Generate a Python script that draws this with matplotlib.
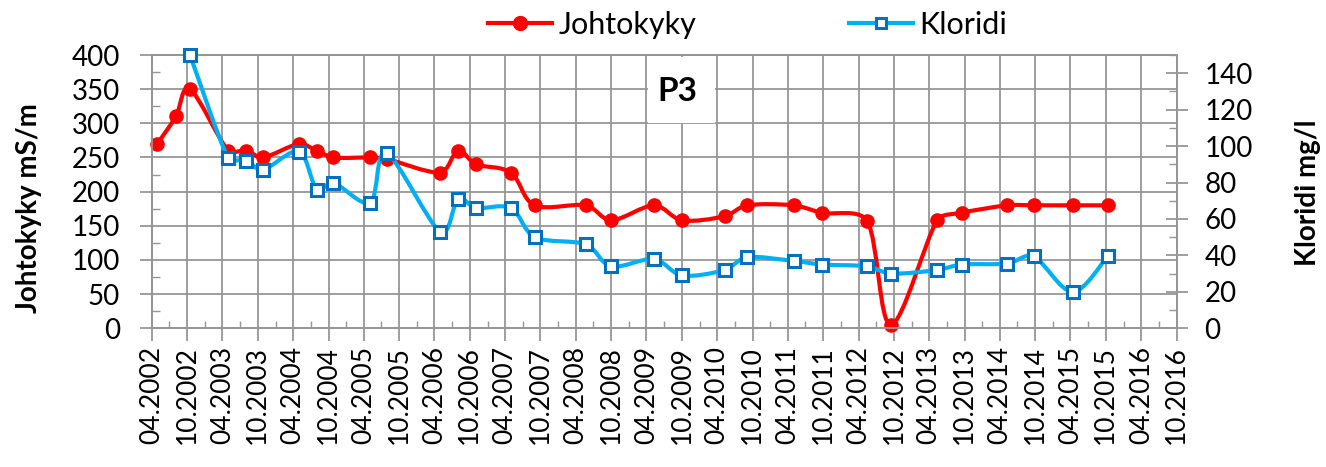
import numpy as np
import matplotlib
matplotlib.use("Agg")
import matplotlib.pyplot as plt
import matplotlib.dates as mdates
from matplotlib.path import Path
from matplotlib.patches import PathPatch, Rectangle
from matplotlib.lines import Line2D
from matplotlib.ticker import MultipleLocator

# sampling dates
dates = ["2002-04-30", "2002-08-04", "2002-10-16", "2003-05-01", "2003-08-01",
         "2003-10-28", "2004-05-01", "2004-08-01", "2004-10-25", "2005-05-04",
         "2005-07-28", "2006-05-01", "2006-08-01", "2006-11-01", "2007-05-01",
         "2007-09-01", "2008-05-25", "2008-10-01", "2009-05-10", "2009-10-01",
         "2010-05-10", "2010-09-01", "2011-05-01", "2011-09-25", "2012-05-15",
         "2012-09-15", "2013-05-12", "2013-09-15", "2014-05-10", "2014-09-22",
         "2015-04-12", "2015-10-10"]
# conductivity, mS/m (left axis)
johtokyky = [270, 310, 350, 260, 260, 250, 270, 260, 250, 250,
             248, 228, 260, 240, 228, 180, 180, 158, 180, 158,
             164, 180, 180, 169, 157, 5, 158, 169, 180, 180,
             180, 180]
# chloride, mg/l (right axis); None = not measured
kloridi = [None, None, 150, 93.5, 92, 87, 97, 76, 80, 69,
           96, 53, 71, 66, 66, 50, 46, 34, 38, 29,
           32, 39, 37, 35, 34, 30, 32, 35, 35.5, 39.5,
           20, 39.5]

RED = "#ff0000"
BLUE_LINE = "#00b0f0"
BLUE_EDGE = "#0070c0"
GRID = "#969696"

plt.rcParams["font.family"] = ["Lato", "DejaVu Sans"]


def smooth_path(a, x, y, clamp=1 / 3):
    # excel-like smoothed line: catmull-rom bezier in screen space,
    # control arms kept short on short segments to avoid overshoot
    pts = a.transData.transform(np.column_stack([x, y]))
    n = len(pts)
    seg = np.hypot(*np.diff(pts, axis=0).T)
    arms = [(pts[min(i + 1, n - 1)] - pts[max(i - 1, 0)]) / 6 for i in range(n)]

    def limit(v, length):
        nv = np.hypot(*v)
        return v if nv <= length or nv == 0 else v * length / nv

    verts = [pts[0]]
    codes = [Path.MOVETO]
    for i in range(n - 1):
        verts += [pts[i] + limit(arms[i], seg[i] * clamp),
                  pts[i + 1] - limit(arms[i + 1], seg[i] * clamp),
                  pts[i + 1]]
        codes += [Path.CURVE4] * 3
    return Path(a.transData.inverted().transform(np.array(verts)), codes)


W, H = 1326, 467
fig = plt.figure(figsize=(W / 100, H / 100), dpi=100)
x0, x1, y0, y1 = 151.7, 1176.7, 55, 328.3
ax = fig.add_axes([x0 / W, 1 - y1 / H, (x1 - x0) / W, (y1 - y0) / H])
ax2 = ax.twinx()

ax.set_xlim(mdates.datestr2num("2002-04-01"), mdates.datestr2num("2016-10-01"))
ax.set_ylim(0, 400)
ax2.set_ylim(0, 150)

xd = mdates.datestr2num(dates)
jk = np.array(johtokyky, dtype=float)
kl_mask = np.array([v is not None for v in kloridi])
kl = np.array([v for v in kloridi if v is not None], dtype=float)

# conductivity
ax.add_patch(PathPatch(smooth_path(ax, xd, jk), fill=False, edgecolor=RED,
                       lw=3.0, zorder=3, capstyle="round", joinstyle="round"))
ax.plot(xd, jk, ls="none", marker="o", ms=9.5, color=RED, zorder=4, clip_on=False)

# chloride
ax2.add_patch(PathPatch(smooth_path(ax2, xd[kl_mask], kl), fill=False,
                        edgecolor=BLUE_LINE, lw=3.0, zorder=3,
                        capstyle="round", joinstyle="round"))
ax2.plot(xd[kl_mask], kl, ls="none", marker="s", ms=8, mfc="white",
         mec=BLUE_EDGE, mew=2.2, zorder=4, clip_on=False)

ax.xaxis.set_major_locator(mdates.MonthLocator(bymonth=[4, 10]))
ax.xaxis.set_minor_locator(mdates.MonthLocator(bymonth=[1, 7]))
ax.xaxis.set_major_formatter(mdates.DateFormatter("%m.%Y"))
ax.yaxis.set_major_locator(MultipleLocator(50))
ax.yaxis.set_minor_locator(MultipleLocator(25))
ax2.set_yticks(np.arange(0, 141, 20))
ax2.yaxis.set_minor_locator(MultipleLocator(10))

ax.grid(which="major", color=GRID, lw=1.3)
ax.set_axisbelow(True)
for a in (ax, ax2):
    for s in a.spines.values():
        s.set_color(GRID)
        s.set_linewidth(1.3)

ax.tick_params(axis="x", which="major", direction="out", length=9, width=1.3,
               color=GRID, labelsize=19, pad=4, rotation=90)
ax.tick_params(axis="x", which="minor", direction="in", length=5, width=1.0, color=GRID)
ax.tick_params(axis="y", which="major", direction="out", length=9, width=1.3,
               color=GRID, labelsize=20, pad=14)
ax.tick_params(axis="y", which="minor", direction="in", length=6, width=1.0, color=GRID)
ax2.tick_params(axis="y", which="major", direction="inout", length=16, width=1.3,
                color=GRID, labelsize=20, pad=12)
ax2.tick_params(axis="y", which="minor", direction="in", length=6, width=1.0, color=GRID)

# white text box behind the site label
bx0, bx1, by0, by1 = 648, 715, 57, 123
ax.add_patch(Rectangle(((bx0 - x0) / (x1 - x0), (y1 - by1) / (y1 - y0)),
                       (bx1 - bx0) / (x1 - x0), (by1 - by0) / (y1 - y0),
                       transform=ax.transAxes, fc="white", ec="none", zorder=1))
fig.text(677 / W, 1 - 92 / H, "P3", fontsize=24, fontweight="bold",
         ha="center", va="center")

fig.text(29.5 / W, 1 - 208 / H, "Johtokyky mS/m", rotation=90, fontsize=20,
         fontweight="bold", ha="center", va="center")
fig.text(1308 / W, 1 - 193 / H, "Kloridi mg/l", rotation=90, fontsize=20,
         fontweight="bold", ha="center", va="center")

handles = [
    Line2D([0], [0], color=RED, lw=3.0, marker="o", ms=10, label="Johtokyky"),
    Line2D([0], [0], color=BLUE_LINE, lw=3.0, marker="s", ms=7.5, mfc="white",
           mec=BLUE_EDGE, mew=2.2, label="Kloridi"),
]
fig.legend(handles=handles, loc="center left", bbox_to_anchor=(488 / W, 1 - 25 / H),
           ncol=2, frameon=False, fontsize=22, handlelength=2.1,
           handletextpad=0.2, columnspacing=5.0, borderpad=0, borderaxespad=0)

fig.savefig("out.png", dpi=100)
